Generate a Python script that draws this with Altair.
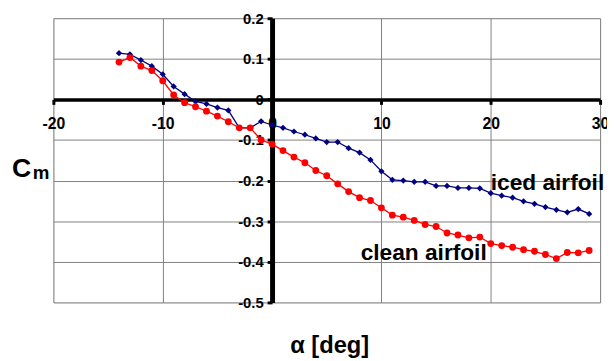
import altair as alt
import pandas as pd

alpha = list(range(-14, 30))
cm_iced = [0.114, 0.111, 0.097, 0.082, 0.062, 0.032, 0.013, -0.005, -0.011, -0.020,
           -0.027, -0.070, -0.070, -0.054, -0.063, -0.070, -0.079, -0.087, -0.096, -0.105,
           -0.105, -0.120, -0.131, -0.149, -0.177, -0.198, -0.200, -0.203, -0.203, -0.213,
           -0.213, -0.218, -0.218, -0.219, -0.231, -0.237, -0.242, -0.251, -0.257, -0.265,
           -0.272, -0.278, -0.270, -0.282]
cm_clean = [0.092, 0.103, 0.082, 0.071, 0.046, 0.011, -0.008, -0.018, -0.029, -0.041,
            -0.055, -0.070, -0.070, -0.100, -0.110, -0.126, -0.142, -0.156, -0.175, -0.188,
            -0.208, -0.227, -0.242, -0.249, -0.267, -0.285, -0.290, -0.298, -0.308, -0.313,
            -0.329, -0.334, -0.341, -0.339, -0.355, -0.360, -0.364, -0.370, -0.374, -0.382,
            -0.392, -0.377, -0.378, -0.372]
x_ticks = [-20, -10, 0, 10, 20, 30]
y_ticks = [-0.5, -0.4, -0.3, -0.2, -0.1, 0, 0.1, 0.2]
labels = ["iced airfoil", "clean airfoil"]
label_x = [20.0, 8.1]
label_y = [-0.223, -0.396]

W, H = 554, 288
FONT = "Liberation Sans"

iced = pd.DataFrame({"alpha": alpha, "cm": cm_iced})
clean = pd.DataFrame({"alpha": alpha, "cm": cm_clean})
ann = pd.DataFrame({"t": labels, "x": label_x, "y": label_y})

xs = alt.Scale(domain=[-20, 30], nice=False, zero=False)
ys = alt.Scale(domain=[-0.5, 0.2], nice=False, zero=False)

x_off = -H * (0 - (-0.5)) / 0.7
y_off = -W * (0 - (-20)) / 50

xaxis = alt.Axis(values=x_ticks, offset=x_off, title=None, grid=True, gridColor="#808080",
                 gridWidth=1, gridOpacity=1, domainColor="black", domainWidth=3.5,
                 tickColor="black", tickWidth=3, tickSize=5, labelPadding=11,
                 labelFont=FONT, labelFontSize=16, labelFontWeight="bold", labelColor="black",
                 labelExpr="toString(datum.value)", labelFlush=False, labelOverlap=False)
yaxis = alt.Axis(values=y_ticks, offset=y_off, title=None, grid=True, gridColor="#808080",
                 gridWidth=1, gridOpacity=1, domainColor="black", domainWidth=5,
                 tickColor="black", tickWidth=3, tickSize=5, labelPadding=4,
                 labelFont=FONT, labelFontSize=15, labelFontWeight="bold", labelColor="black",
                 labelExpr="toString(round(datum.value*10)/10)", labelFlush=False,
                 labelOverlap=False)

base_x = alt.X("alpha:Q", scale=xs, axis=xaxis)
base_y = alt.Y("cm:Q", scale=ys, axis=yaxis)

iced_line = alt.Chart(iced).mark_line(
    color="#000080", strokeWidth=1.3,
    point=alt.OverlayMarkDef(shape="diamond", size=40, filled=True, color="#000080"),
).encode(x=base_x, y=base_y)

clean_line = alt.Chart(clean).mark_line(
    color="#ff0000", strokeWidth=1.3,
    point=alt.OverlayMarkDef(shape="circle", size=48, filled=True, color="#ff0000", opacity=1),
).encode(x=alt.X("alpha:Q", scale=xs), y=alt.Y("cm:Q", scale=ys))

ann_text = alt.Chart(ann).mark_text(
    align="left", baseline="alphabetic", font=FONT, fontSize=23, fontWeight="bold", color="black"
).encode(x=alt.X("x:Q", scale=xs), y=alt.Y("y:Q", scale=ys), text="t:N")

one = pd.DataFrame({"a": [0]})
c_text = alt.Chart(one).mark_text(
    text="C", align="left", baseline="alphabetic", font=FONT, fontSize=27, fontWeight="bold", color="black"
).encode(x=alt.value(-42), y=alt.value(161))
m_text = alt.Chart(one).mark_text(
    text="m", align="left", baseline="alphabetic", font=FONT, fontSize=19, fontWeight="bold", color="black"
).encode(x=alt.value(-21), y=alt.value(163))
x_title = alt.Chart(one).mark_text(
    text="α  [deg]", align="center", baseline="alphabetic", font=FONT, fontSize=24, fontWeight="bold", color="black"
).encode(x=alt.value(280), y=alt.value(339))

chart = alt.layer(iced_line, clean_line, ann_text, c_text, m_text, x_title).properties(
    width=W, height=H,
    autosize=alt.AutoSizeParams(type="none"),
    padding={"left": 46, "top": 8, "right": 7, "bottom": 57},
).configure_view(stroke="#808080", strokeWidth=1).configure(background="white")

chart.save("out.html", embed_options={"renderer": "svg", "actions": False})
